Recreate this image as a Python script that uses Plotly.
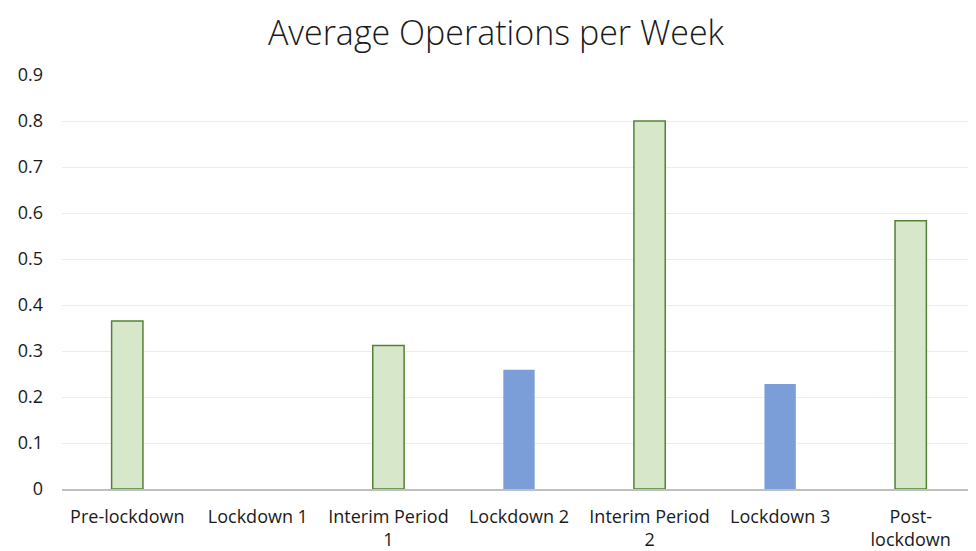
import plotly.graph_objects as go

categories = ["Pre-lockdown", "Lockdown 1", "Interim Period<br>1", "Lockdown 2",
              "Interim Period<br>2", "Lockdown 3", "Post-<br>lockdown"]
values = [0.365, 0, 0.312, 0.259, 0.8, 0.228, 0.583]
period_type = ["open", "lock", "open", "lock", "open", "lock", "open"]

fill_colors = {"open": "#d6e8c9", "lock": "#7b9ed8"}
line_colors = {"open": "#548235", "lock": "#7b9ed8"}
line_widths = {"open": 1.5, "lock": 0}

fig = go.Figure(go.Bar(
    x=categories,
    y=values,
    width=0.24,
    marker=dict(
        color=[fill_colors[t] for t in period_type],
        line=dict(color=[line_colors[t] for t in period_type],
                  width=[line_widths[t] for t in period_type]),
    ),
    hoverinfo="x+y",
))

fig.update_layout(
    width=976, height=551,
    paper_bgcolor="white", plot_bgcolor="white",
    margin=dict(l=54, r=8, t=67, b=70, autoexpand=False),
    title=dict(text="Average Operations per Week", x=0.5, xanchor="center",
               y=0.955, yanchor="middle",
               font=dict(family="Open Sans", size=34, color="#1a1a1a", weight=300)),
    font=dict(family="Open Sans", size=18, color="#1a1a1a"),
    showlegend=False,
    bargap=0.76,
)
fig.update_xaxes(
    showline=True, linecolor="#bfbfbf", linewidth=2,
    showgrid=False, ticks="", tickfont=dict(size=18),
    ticklabelstandoff=10,
    automargin=False,
)
fig.update_yaxes(
    range=[0, 0.9], dtick=0.1, tickformat="~g",
    showgrid=True, gridcolor="#ececec", gridwidth=1,
    zeroline=False, showline=False, ticks="",
    ticklabelstandoff=18, tickfont=dict(size=18),
    automargin=False,
)

fig.write_html("out.html")
